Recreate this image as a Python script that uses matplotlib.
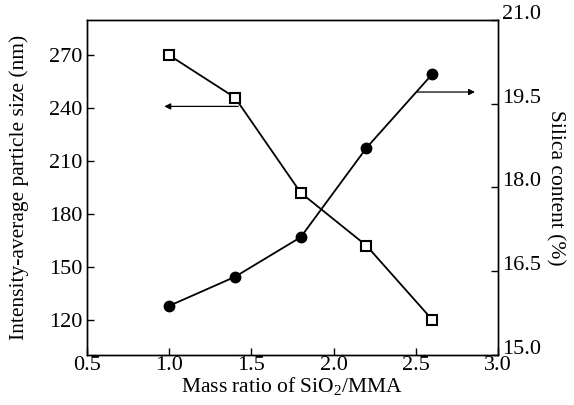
import matplotlib
matplotlib.use("Agg")
import matplotlib.pyplot as plt
import matplotlib.transforms as mtransforms

mass_ratio = [1.0, 1.4, 1.8, 2.2, 2.6]
particle_size = [270, 246, 192, 162, 120]
silica_content = [15.88, 16.40, 17.11, 18.71, 20.03]

x_ticks = [0.5, 1.0, 1.5, 2.0, 2.5, 3.0]
left_ticks = [120, 150, 180, 210, 240, 270]
right_ticks = [15.0, 16.5, 18.0, 19.5, 21.0]

plt.rcParams['font.family'] = ['Liberation Serif', 'DejaVu Serif']
plt.rcParams['mathtext.fontset'] = 'custom'
plt.rcParams['mathtext.rm'] = 'Liberation Serif'

fig = plt.figure(figsize=(5.74, 4.05), dpi=100)
ax = fig.add_axes([0.1516, 0.1235, 0.716, 0.8271])
ax2 = ax.twinx()

fs = 16
ax.plot(mass_ratio, particle_size, color='black', lw=1.3, marker='s', ms=6.5,
        mfc='white', mec='black', mew=1.5, zorder=3)
ax2.plot(mass_ratio, silica_content, color='black', lw=1.3, marker='o', ms=7.5,
         mfc='black', mec='black', zorder=3)

ax.set_xlim(0.5, 3.0)
ax.set_ylim(100, 290)
ax2.set_ylim(15.0, 21.0)
ax.set_xticks(x_ticks)
ax.set_xticklabels([f"{v:.1f}" for v in x_ticks])
ax.set_yticks(left_ticks)
ax2.set_yticks(right_ticks)
ax2.set_yticklabels([f"{v:.1f}" for v in right_ticks])

for a in (ax, ax2):
    a.tick_params(direction='in', length=5, width=1, labelsize=fs, pad=1, top=False)
    for s in a.spines.values():
        s.set_linewidth(1.0)
ax.tick_params(axis='y', right=False, pad=3)
ax2.tick_params(axis='y', left=False, pad=3)
ax.tick_params(axis='x', pad=1)

offset = mtransforms.ScaledTranslation(0, 8 / 100, fig.dpi_scale_trans)
for lab in ax2.get_yticklabels():
    lab.set_transform(lab.get_transform() + offset)

ax.set_xlabel('Mass ratio of SiO$_2$/MMA', fontsize=15.5, labelpad=0)
ax.set_ylabel('Intensity-average particle size (nm)', fontsize=15.5, labelpad=15)
ax2.set_ylabel('Silica content (%)', fontsize=15.5, rotation=270, labelpad=17)

arrow = dict(arrowstyle='-|>', color='black', lw=0.9, mutation_scale=9, shrinkA=0, shrinkB=0)
ax.annotate('', xy=(0.97, 241), xytext=(1.42, 241), arrowprops=arrow)
ax2.annotate('', xy=(2.86, 19.71), xytext=(2.51, 19.71), arrowprops=arrow)

fig.savefig('out.png', dpi=100)
